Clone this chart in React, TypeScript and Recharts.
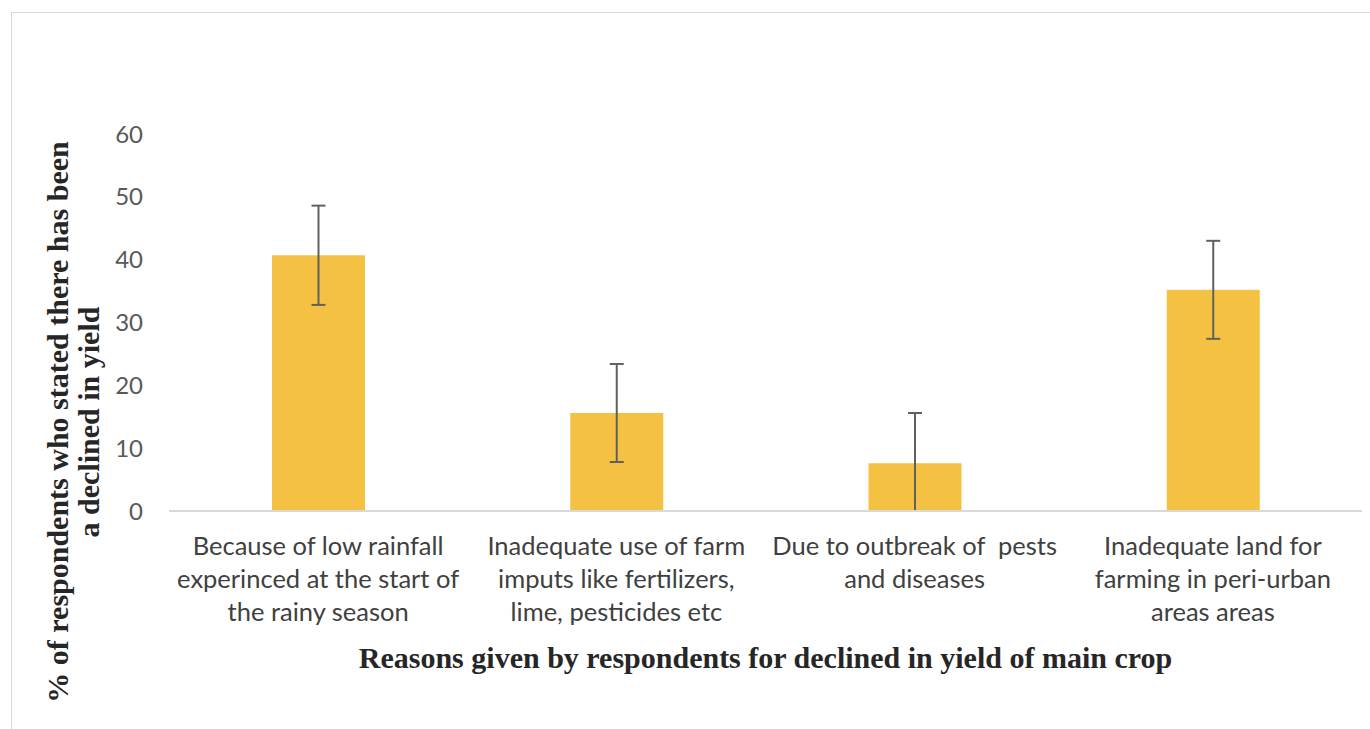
import React from "react";
import { BarChart, Bar, XAxis, YAxis, Label } from "recharts";

const categories = [
  "Because of low rainfall experinced at the start of the rainy season",
  "Inadequate use of farm imputs like fertilizers, lime, pesticides etc",
  "Due to outbreak of  pests and diseases",
  "Inadequate land for farming in peri-urban areas areas",
];

// wrapped the way the original axis shows them
const tickLines = [
  ["Because of low rainfall", "experinced at the start of", "the rainy season"],
  ["Inadequate use of farm", "imputs like fertilizers,", "lime, pesticides etc"],
  ["Due to outbreak of  pests", "and diseases"],
  ["Inadequate land for", "farming in peri-urban", "areas areas"],
];

const percents = [40.7, 15.6, 7.6, 35.2];
const errors = [7.9, 7.8, 8.0, 7.8];
const yTicks = [0, 10, 20, 30, 40, 50, 60];

const yTitle = ["% of respondents who stated there has been", "a declined in yield"];
const xTitle = "Reasons given by respondents for declined in yield of main crop";

const data = categories.map((name, i) => ({
  name,
  value: percents[i],
  err: errors[i],
}));

const W = 1370;
const H = 729;

const CategoryTick = (props: any) => {
  const { x, y, payload } = props;
  const lines = tickLines[payload.index] || [];
  return (
    <text
      x={x}
      y={y}
      textAnchor="middle"
      fill="#404040"
      fontFamily="Lato, 'Open Sans', sans-serif"
      fontSize={25.5}
      style={{ whiteSpace: "pre" }}
    >
      {lines.map((l, i) => (
        <tspan key={i} x={x} y={y + 44 + i * 33}>
          {l}
        </tspan>
      ))}
    </text>
  );
};

// bar + error bar; the error length is scaled with the bar's own px/unit,
// and clipped at the baseline like the original (no cap below 0)
const BarWithError = (props: any) => {
  const { x, y, width, height, fill, payload } = props;
  const base = y + height;
  const ppu = payload.value ? height / payload.value : 0;
  const cx = x + width / 2;
  const top = y - payload.err * ppu;
  let bottom = y + payload.err * ppu;
  const clipped = bottom > base;
  if (clipped) bottom = base;
  const cap = 7;
  return (
    <g>
      <rect x={x} y={y} width={width} height={height} fill={fill} />
      <line x1={cx} x2={cx} y1={top} y2={bottom} stroke="#606060" strokeWidth={2} />
      <line x1={cx - cap} x2={cx + cap} y1={top} y2={top} stroke="#606060" strokeWidth={2} />
      {!clipped && <line x1={cx - cap} x2={cx + cap} y1={bottom} y2={bottom} stroke="#606060" strokeWidth={2} />}
    </g>
  );
};

const YTitle = () => {
  const cy = 422;
  const xs = [68, 99];
  return (
    <g>
      {yTitle.map((t, i) => (
        <text
          key={i}
          x={xs[i]}
          y={cy}
          transform={`rotate(-90, ${xs[i]}, ${cy})`}
          textAnchor="middle"
          fill="#262626"
          fontFamily="'Liberation Serif', 'Times New Roman', serif"
          fontWeight="bold"
          fontSize={30}
        >
          {t}
        </text>
      ))}
    </g>
  );
};

const XTitle = (props: any) => {
  const vb = props.viewBox || { x: 169, y: 511, width: 1193 };
  return (
    <text
      x={vb.x + vb.width / 2}
      y={vb.y + 157}
      textAnchor="middle"
      fill="#262626"
      fontFamily="'Liberation Serif', 'Times New Roman', serif"
      fontWeight="bold"
      fontSize={30}
    >
      {xTitle}
    </text>
  );
};

export default function App() {
  return (
    <div style={{ position: "absolute", left: 0, top: 0, width: W, height: H, overflow: "hidden", background: "#fff" }}>
      <div
        style={{
          position: "absolute",
          left: 11,
          top: 12,
          width: W,
          height: H,
          borderLeft: "1.5px solid #d9d9d9",
          borderTop: "1.5px solid #d9d9d9",
        }}
      />
      <div style={{ position: "absolute", left: 0, top: 0 }}>
        <BarChart width={W} height={H} data={data} margin={{ top: 134, right: 8, left: 0, bottom: 0 }}>
          <XAxis
            dataKey="name"
            height={218}
            tickLine={false}
            tickSize={0}
            tickMargin={0}
            axisLine={{ stroke: "#d9d9d9", strokeWidth: 2 }}
            tick={<CategoryTick />}
            interval={0}
          >
            <Label content={<XTitle />} />
          </XAxis>
          <YAxis
            width={169}
            domain={[0, 60]}
            ticks={yTicks}
            axisLine={false}
            tickLine={false}
            tickSize={0}
            tickMargin={26}
            tick={{ fill: "#595959", fontSize: 24, fontFamily: "Lato, 'Open Sans', sans-serif" }}
          >
            <Label content={<YTitle />} />
          </YAxis>
          <Bar dataKey="value" fill="#F5C142" barSize={93} isAnimationActive={false} shape={<BarWithError />} />
        </BarChart>
      </div>
    </div>
  );
}
